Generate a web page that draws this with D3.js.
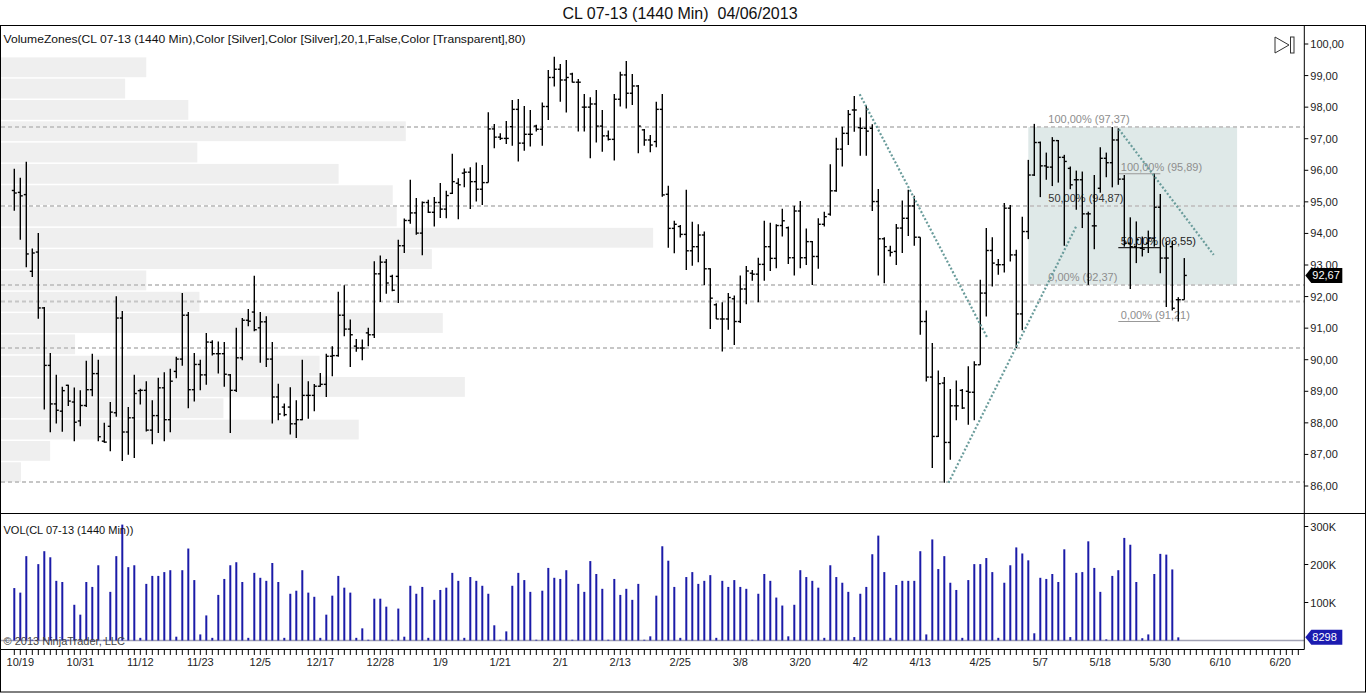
<!DOCTYPE html>
<meta charset="utf-8">
<style>
    body { margin: 0; background: #fff; }
    svg { display: block; font-family: "Liberation Sans", Arial, sans-serif; }
    .ohlc line { stroke: #000; stroke-width: 1.4px; }
    .vol line { stroke: #1b1ba8; stroke-width: 2px; }
    .axis text { font-size: 11px; fill: #222; }
    .fib text { font-size: 11px; }
    .title { white-space: pre; }
</style>
<svg width="1366" height="694"></svg>
<script src="https://d3js.org/d3.v7.min.js"></script>
<script>

    // daily bars, CL 07-13, one slot per session (Sunday sessions included)
    var openP = [
        95.36, 95.30, 95.23, 92.80, 93.41, 91.64, 89.82, 88.60, 88.37, 89.19,
        88.66, 88.06, 88.55, 89.05, 89.56, 87.42, 87.89, 88.32, 91.32, 87.71,
        88.16, 89.02, 89.03, 87.77, 88.23, 89.11, 88.10, 89.63, 90.02, 91.41,
        89.05, 89.85, 89.52, 90.55, 90.19, 90.19, 89.52, 89.03, 90.06, 91.25,
        91.51, 91.01, 91.20, 90.02, 88.82, 88.50, 88.50, 87.97, 88.10, 88.87,
        88.87, 89.16, 89.22, 90.11, 90.13, 91.41, 90.97, 90.43, 90.37, 90.85,
        90.79, 92.72, 93.09, 92.64, 92.64, 93.61, 94.41, 94.65, 94.01, 94.98,
        94.67, 94.98, 94.77, 95.27, 95.59, 95.91, 95.94, 95.64, 95.40, 95.61,
        97.31, 97.05, 97.01, 97.38, 97.93, 96.86, 97.14, 97.40, 97.30, 98.02,
        98.94, 99.20, 98.86, 99.05, 98.79, 98.00, 98.00, 98.10, 97.40, 97.09,
        96.98, 98.25, 99.02, 98.44, 98.67, 97.28, 96.96, 96.91, 97.93, 95.24,
        94.16, 94.22, 93.97, 93.45, 93.58, 93.95, 92.88, 91.74, 91.29, 91.29,
        91.93, 91.21, 92.24, 92.74, 92.71, 93.02, 93.58, 93.21, 94.25, 94.18,
        93.23, 94.71, 93.23, 93.74, 93.27, 94.29, 94.61, 95.35, 96.67, 97.17,
        97.91, 97.35, 97.33, 97.33, 95.01, 93.83, 93.46, 93.43, 94.17, 94.48,
        94.87, 93.88, 91.21, 89.45, 87.57, 89.26, 87.38, 88.54, 89.03, 89.00,
        88.97, 89.84, 92.11, 93.46, 93.01, 93.01, 94.80, 93.32, 91.45, 94.06,
        95.85, 96.88, 96.14, 96.10, 96.94, 96.41, 96.06, 95.70, 95.70, 94.62,
        94.24, 95.43, 96.38, 96.24, 96.96, 95.72, 93.69, 93.58, 93.53, 93.69,
        93.85, 94.83, 93.22, 93.58, 91.90, 91.90
    ];
    var highP = [
        96.05, 95.76, 96.27, 93.52, 94.01, 91.67, 90.21, 89.52, 89.14, 89.21,
        89.12, 89.03, 89.97, 90.19, 90.00, 88.00, 88.66, 92.01, 91.54, 88.50,
        89.52, 89.08, 89.32, 88.72, 89.43, 89.60, 89.71, 90.09, 92.11, 91.51,
        90.21, 90.00, 90.85, 90.62, 90.58, 90.56, 89.55, 91.01, 91.32, 91.61,
        92.66, 91.51, 91.38, 90.56, 89.24, 88.61, 89.13, 88.72, 90.00, 89.32,
        89.23, 89.58, 90.19, 90.43, 92.15, 92.36, 91.27, 90.66, 90.64, 91.01,
        93.12, 93.30, 93.19, 92.69, 93.80, 94.47, 95.70, 95.12, 95.01, 95.07,
        95.15, 95.60, 95.35, 96.52, 95.75, 96.06, 96.10, 96.25, 96.17, 97.84,
        97.47, 97.17, 97.56, 98.23, 98.26, 98.04, 97.91, 97.44, 98.15, 99.18,
        99.60, 99.37, 99.49, 99.09, 98.89, 98.42, 98.31, 98.54, 97.91, 97.26,
        98.42, 99.12, 99.46, 99.05, 98.70, 97.31, 97.12, 98.17, 98.42, 95.51,
        94.40, 94.27, 95.38, 94.37, 94.29, 94.06, 92.90, 91.79, 91.82, 92.11,
        92.03, 92.67, 92.97, 92.84, 93.23, 94.40, 94.34, 94.29, 94.78, 94.22,
        94.88, 95.03, 94.16, 93.76, 94.48, 94.69, 96.19, 97.03, 97.38, 97.91,
        98.35, 97.67, 98.05, 97.46, 95.41, 93.88, 93.61, 94.30, 95.04, 95.38,
        95.19, 93.88, 91.56, 90.53, 89.66, 89.45, 89.07, 89.34, 89.07, 89.79,
        89.95, 92.53, 94.17, 93.88, 93.19, 94.96, 94.90, 93.48, 94.53, 96.33,
        97.47, 96.91, 96.56, 97.05, 96.96, 96.49, 96.12, 95.99, 95.96, 94.69,
        95.85, 96.73, 96.56, 97.37, 97.33, 95.85, 94.51, 94.38, 93.90, 94.09,
        95.89, 95.25, 93.74, 93.77, 91.98, 93.22
    ];
    var lowP = [
        94.72, 93.80, 92.93, 92.62, 91.30, 88.42, 87.70, 87.98, 87.72, 88.53,
        87.42, 87.89, 88.50, 88.84, 87.42, 87.37, 87.10, 88.19, 86.79, 86.99,
        86.89, 88.58, 87.73, 87.32, 87.68, 87.42, 87.70, 89.41, 89.81, 88.46,
        88.68, 89.03, 89.21, 90.13, 89.56, 89.14, 87.68, 88.98, 89.98, 91.06,
        90.90, 89.90, 89.77, 87.98, 88.08, 88.21, 87.63, 87.52, 88.08, 88.13,
        88.37, 89.14, 88.82, 89.48, 90.09, 90.74, 89.77, 90.25, 89.98, 90.43,
        90.69, 91.83, 92.09, 92.17, 91.80, 93.38, 94.31, 93.96, 93.31, 94.65,
        94.22, 94.49, 94.48, 95.25, 94.45, 95.46, 94.77, 95.01, 94.90, 95.61,
        96.70, 96.96, 96.83, 96.78, 96.28, 96.62, 96.75, 97.23, 96.78, 97.59,
        98.65, 98.17, 97.83, 98.78, 97.23, 97.23, 96.38, 96.88, 96.59, 96.94,
        96.31, 98.02, 97.96, 98.07, 96.54, 96.78, 96.57, 96.73, 95.16, 93.55,
        93.37, 93.87, 92.84, 92.98, 93.09, 92.37, 90.97, 91.29, 90.26, 90.95,
        90.47, 91.16, 91.76, 92.50, 91.82, 92.50, 92.81, 92.90, 93.90, 93.03,
        92.67, 92.90, 93.00, 92.37, 92.88, 94.22, 94.56, 95.32, 96.12, 96.80,
        97.22, 96.46, 96.46, 94.71, 92.67, 92.42, 93.27, 93.00, 93.38, 93.92,
        93.61, 90.79, 89.31, 86.57, 87.55, 86.10, 86.83, 88.08, 88.44, 87.94,
        88.08, 89.84, 91.37, 92.32, 92.69, 92.76, 93.11, 90.37, 90.93, 93.82,
        95.82, 95.15, 95.70, 95.50, 95.61, 93.61, 95.40, 94.75, 94.17, 92.37,
        93.50, 95.29, 95.78, 95.46, 95.54, 93.58, 92.24, 93.06, 93.27, 93.38,
        93.58, 92.74, 91.67, 91.56, 91.21, 91.90
    ];
    var closeP = [
        95.28, 95.19, 93.35, 93.38, 91.64, 89.82, 88.60, 88.40, 89.02, 88.69,
        88.02, 88.55, 89.05, 89.56, 87.56, 87.39, 88.34, 91.32, 87.71, 88.16,
        88.93, 89.03, 87.77, 88.23, 89.11, 88.10, 89.32, 90.02, 91.41, 89.05,
        89.85, 89.52, 90.56, 90.19, 90.19, 89.54, 89.03, 90.06, 91.25, 91.22,
        90.95, 91.20, 90.02, 88.82, 88.28, 88.26, 87.97, 88.10, 88.87, 88.87,
        89.16, 89.22, 90.11, 90.13, 91.41, 90.97, 90.79, 90.37, 90.37, 90.79,
        92.72, 93.09, 92.43, 92.20, 93.61, 94.41, 94.65, 94.01, 94.98, 94.67,
        94.98, 94.77, 95.20, 95.64, 95.54, 95.94, 95.64, 95.40, 95.61, 97.31,
        97.05, 97.01, 97.01, 97.93, 96.86, 97.14, 97.14, 97.30, 98.02, 98.94,
        99.20, 98.86, 98.94, 98.79, 98.79, 98.00, 98.10, 97.40, 97.09, 96.98,
        98.25, 99.02, 98.44, 98.67, 97.40, 96.96, 96.80, 97.93, 95.22, 94.16,
        94.29, 93.97, 93.45, 93.58, 93.95, 92.88, 91.95, 91.29, 91.29, 91.97,
        91.21, 92.24, 92.81, 92.71, 93.02, 93.58, 93.21, 94.25, 94.40, 93.23,
        94.71, 93.23, 93.74, 93.27, 94.29, 94.53, 95.35, 96.67, 97.17, 97.77,
        97.91, 97.33, 97.24, 95.01, 93.83, 93.58, 93.40, 94.17, 94.48, 94.87,
        93.88, 91.21, 89.45, 87.57, 89.24, 87.38, 88.54, 88.54, 88.47, 88.97,
        89.84, 92.11, 93.46, 93.06, 93.01, 94.80, 93.32, 91.45, 94.06, 95.85,
        96.88, 96.14, 96.10, 96.94, 96.41, 96.28, 95.54, 95.70, 94.62, 94.62,
        94.24, 96.38, 96.24, 96.96, 95.72, 93.69, 93.58, 93.80, 93.50, 93.85,
        94.83, 93.22, 93.22, 91.63, 91.90, 92.67
    ];

    // volume in thousands of contracts (last, still-forming bar has none yet)
    var volK = [
        138, 126, 222, 2, 201, 235, 219, 157, 154, 2,
        94, 68, 154, 141, 198, 2, 128, 222, 305, 193,
        198, 7, 149, 170, 170, 180, 185, 10, 185, 242,
        159, 16, 66, 7, 120, 162, 198, 206, 154, 7,
        178, 165, 157, 204, 154, 7, 123, 131, 185, 126,
        115, 7, 68, 118, 170, 139, 126, 7, 32, 2,
        110, 110, 89, 2, 84, 10, 144, 123, 141, 7,
        107, 133, 139, 178, 157, 7, 167, 157, 144, 123,
        40, 2, 24, 144, 178, 159, 128, 2, 131, 191,
        165, 162, 185, 2, 149, 128, 209, 175, 136, 2,
        162, 120, 136, 107, 149, 2, 11, 118, 248, 210,
        141, 7, 167, 180, 149, 157, 172, 7, 157, 141,
        159, 141, 136, 2, 123, 175, 157, 113, 92, 11,
        94, 185, 167, 157, 139, 7, 198, 167, 152, 128,
        9, 123, 141, 227, 276, 180, 7, 146, 157, 157,
        157, 235, 16, 266, 188, 222, 152, 133, 7, 159,
        201, 201, 217, 180, 7, 152, 198, 245, 229, 211,
        19, 165, 162, 175, 154, 240, 9, 178, 180, 261,
        191, 128, 3, 170, 185, 270, 252, 154, 6, 16,
        175, 228, 226, 187, 8.298
    ];

    var dateLabels = ["10/19", "10/31", "11/12", "11/23", "12/5", "12/17", "12/28", "1/9", "1/21", "2/1", "2/13",
        "2/25", "3/8", "3/20", "4/2", "4/13", "4/25", "5/7", "5/18", "5/30", "6/10", "6/20"];
    var dateLabelBars = [1, 11, 21, 31, 41, 51, 61, 71, 81, 91, 101, 111, 121, 131, 141, 151, 161, 171, 181, 191, 201, 211];
    var priceTicks = [86, 87, 88, 89, 90, 91, 92, 93, 94, 95, 96, 97, 98, 99, 100];
    var volTicks = [100, 200, 300];

    // VolumeZones: 20 price bands, volume per band (thousands), top band first
    var zoneHigh = 99.60, zoneLow = 86.10;
    var zoneVolK = [757, 647, 976, 2109, 1023, 1759, 2041, 2062, 3398, 2245,
        757, 1034, 2302, 386, 1660, 2417, 1159, 1864, 256, 104];

    // drawn objects
    var hLevels = [97.37, 94.87, 92.37, 91.84, 90.37, 86.13];
    var trendFrom = [[140.9, 98.41], [155.7, 86.10], [184.1, 97.30]];
    var trendTo = [[162.1, 90.72], [177.1, 94.27], [199.9, 93.32]];
    var fibLevels = [1, 0.5, 0];
    var bigFibBars = [169, 203.8], bigFibPrices = [97.37, 92.37];
    var smallFibBars = [184, 191], smallFibPrices = [95.89, 91.21];

    var svg = d3.select("svg"),
        plotRight = 1304.3;

    var x = d3.scaleLinear().domain([0, 215]).range([14.3, plotRight]),
        y = d3.scaleLinear().domain([86, 100]).range([486, 44]),
        vy = d3.scaleLinear().domain([0, 300]).range([640.5, 526.5]);

    var num = d3.format(".2f");
    function comma(v) { return num(v).replace(".", ","); }

    // title and frame
    svg.append("text")
        .attr("class", "title")
        .attr("x", 680).attr("y", 19)
        .attr("text-anchor", "middle")
        .style("font-size", "16px").style("fill", "#111")
        .text("CL 07-13 (1440 Min)  04/06/2013");

    svg.append("rect")
        .attr("x", 0.5).attr("y", 25.5).attr("width", 1365).attr("height", 666.5)
        .attr("fill", "none").attr("stroke", "#000");

    // volume zones
    var step = (zoneHigh - zoneLow) / zoneVolK.length;
    var zx = d3.scaleLinear().domain([0, d3.max(zoneVolK)]).range([0, plotRight * 0.5]);
    svg.append("g").selectAll("rect")
        .data(zoneVolK)
        .enter().append("rect")
        .attr("x", 1)
        .attr("y", function (d, i) { return y(zoneHigh - i * step) + 0.75; })
        .attr("width", function (d) { return zx(d); })
        .attr("height", function (d, i) { return y(zoneHigh - (i + 1) * step) - y(zoneHigh - i * step) - 1.5; })
        .attr("fill", "#efefef");

    // big fibonacci box
    svg.append("rect")
        .attr("x", x(bigFibBars[0]))
        .attr("y", y(bigFibPrices[0]))
        .attr("width", x(bigFibBars[1]) - x(bigFibBars[0]))
        .attr("height", y(bigFibPrices[1]) - y(bigFibPrices[0]))
        .attr("fill", "#dfe9e8");

    // horizontal dashed lines
    svg.append("g").selectAll("line")
        .data(hLevels)
        .enter().append("line")
        .attr("x1", 1).attr("x2", plotRight)
        .attr("y1", function (d) { return y(d); })
        .attr("y2", function (d) { return y(d); })
        .attr("stroke", "#c6c6c6").attr("stroke-width", 2)
        .attr("stroke-dasharray", "4,3");

    // small fibonacci lines
    var fib = svg.append("g").attr("class", "fib");
    fibLevels.forEach(function (lv) {
        var p = smallFibPrices[1] + lv * (smallFibPrices[0] - smallFibPrices[1]);
        fib.append("line")
            .attr("x1", x(smallFibBars[0])).attr("x2", x(smallFibBars[1]))
            .attr("y1", y(p)).attr("y2", y(p))
            .attr("stroke", lv === 0.5 ? "#222" : "#999").attr("stroke-width", 1.2);
    });

    // OHLC bars
    var bar = svg.append("g").attr("class", "ohlc").selectAll("g")
        .data(closeP)
        .enter().append("g")
        .attr("transform", function (d, i) { return "translate(" + x(i) + ",0)"; });
    bar.append("line")
        .attr("x1", 0).attr("x2", 0)
        .attr("y1", function (d, i) { return y(highP[i]); })
        .attr("y2", function (d, i) { return y(lowP[i]); });
    bar.append("line")
        .attr("x1", -2.5).attr("x2", 0)
        .attr("y1", function (d, i) { return y(openP[i]); })
        .attr("y2", function (d, i) { return y(openP[i]); });
    bar.append("line")
        .attr("x1", 0).attr("x2", 2.5)
        .attr("y1", function (d) { return y(d); })
        .attr("y2", function (d) { return y(d); });

    // trend lines
    svg.append("g").selectAll("line")
        .data(trendFrom)
        .enter().append("line")
        .attr("x1", function (d) { return x(d[0]); })
        .attr("y1", function (d) { return y(d[1]); })
        .attr("x2", function (d, i) { return x(trendTo[i][0]); })
        .attr("y2", function (d, i) { return y(trendTo[i][1]); })
        .attr("stroke", "#6a9c9b").attr("stroke-width", 2.2)
        .attr("stroke-dasharray", "2,2");

    // fibonacci labels
    fibLevels.forEach(function (lv) {
        var p = bigFibPrices[1] + lv * (bigFibPrices[0] - bigFibPrices[1]);
        fib.append("text")
            .attr("x", x(bigFibBars[0]) + 20).attr("y", y(p) - 4)
            .style("fill", lv === 0.5 ? "#333" : "#8e8e8e")
            .text(comma(lv * 100) + "% (" + comma(p) + ")");
        var q = smallFibPrices[1] + lv * (smallFibPrices[0] - smallFibPrices[1]);
        fib.append("text")
            .attr("x", x(smallFibBars[0]) + 2.5).attr("y", y(q) - 3)
            .style("fill", lv === 0.5 ? "#222" : "#8e8e8e")
            .text(comma(lv * 100) + "% (" + comma(q) + ")");
    });

    // volume pane
    svg.append("line")
        .attr("x1", 1).attr("x2", plotRight)
        .attr("y1", vy(0)).attr("y2", vy(0))
        .attr("stroke", "#a2a2b4").attr("stroke-width", 1.5);

    svg.append("g").attr("class", "vol").selectAll("line")
        .data(volK)
        .enter().append("line")
        .attr("x1", function (d, i) { return x(i); })
        .attr("x2", function (d, i) { return x(i); })
        .attr("y1", vy(0))
        .attr("y2", function (d) { return vy(d); });

    // pane borders and axes
    svg.append("line").attr("x1", 0).attr("x2", 1366).attr("y1", 513.5).attr("y2", 513.5).attr("stroke", "#000");
    svg.append("line").attr("x1", 0).attr("x2", plotRight).attr("y1", 649.5).attr("y2", 649.5).attr("stroke", "#000");
    svg.append("line").attr("x1", plotRight).attr("x2", plotRight).attr("y1", 25).attr("y2", 649.5).attr("stroke", "#000");

    var axis = svg.append("g").attr("class", "axis");

    axis.selectAll(".pt")
        .data(priceTicks)
        .enter().append("line")
        .attr("x1", plotRight).attr("x2", plotRight + 4)
        .attr("y1", function (d) { return y(d); })
        .attr("y2", function (d) { return y(d); })
        .attr("stroke", "#000");
    axis.selectAll(".pl")
        .data(priceTicks)
        .enter().append("text")
        .attr("x", plotRight + 6)
        .attr("y", function (d) { return y(d) + 4; })
        .text(comma);

    axis.selectAll(".vt")
        .data(volTicks)
        .enter().append("line")
        .attr("x1", plotRight).attr("x2", plotRight + 4)
        .attr("y1", function (d) { return vy(d); })
        .attr("y2", function (d) { return vy(d); })
        .attr("stroke", "#000");
    axis.selectAll(".vl")
        .data(volTicks)
        .enter().append("text")
        .attr("x", plotRight + 6)
        .attr("y", function (d) { return vy(d) + 4; })
        .text(function (d) { return d + "K"; });

    axis.selectAll(".xt")
        .data(d3.range(0, 215))
        .enter().append("line")
        .attr("x1", function (d) { return x(d); })
        .attr("x2", function (d) { return x(d); })
        .attr("y1", 649.5).attr("y2", 655)
        .attr("stroke", "#000");
    axis.selectAll(".xl")
        .data(dateLabels)
        .enter().append("text")
        .attr("x", function (d, i) { return x(dateLabelBars[i]); })
        .attr("y", 666)
        .attr("text-anchor", "middle")
        .text(function (d) { return d; });

    // last value markers
    function marker(yv, fill, label) {
        var g = svg.append("g");
        g.append("path")
            .attr("d", "M" + (plotRight + 1) + "," + yv + "L" + (plotRight + 7) + "," + (yv - 7.5)
                + "H" + (plotRight + 38) + "V" + (yv + 7.5) + "H" + (plotRight + 7) + "Z")
            .attr("fill", fill);
        g.append("text")
            .attr("x", plotRight + 8).attr("y", yv + 4)
            .style("font-size", "11px").style("fill", "#fff")
            .text(label);
    }
    marker(y(closeP[closeP.length - 1]), "#000", comma(closeP[closeP.length - 1]));
    marker(vy(volK[volK.length - 1]), "#1b1bb0", Math.round(volK[volK.length - 1] * 1000));

    // indicator captions
    svg.append("text")
        .attr("x", 3.5).attr("y", 43)
        .attr("textLength", 522).attr("lengthAdjust", "spacingAndGlyphs")
        .style("font-size", "11px").style("fill", "#111")
        .text("VolumeZones(CL 07-13 (1440 Min),Color [Silver],Color [Silver],20,1,False,Color [Transparent],80)");
    svg.append("text")
        .attr("x", 3.5).attr("y", 534)
        .style("font-size", "11px").style("fill", "#111")
        .text("VOL(CL 07-13 (1440 Min))");
    svg.append("text")
        .attr("x", 3.5).attr("y", 645)
        .style("font-size", "11px").style("fill", "#444")
        .text("\u00a9 2013 NinjaTrader, LLC");

    // scroll-to-end button
    svg.append("path")
        .attr("d", "M1275,37L1289,45L1275,53Z")
        .attr("fill", "#fff").attr("stroke", "#333");
    svg.append("rect")
        .attr("x", 1290.5).attr("y", 37).attr("width", 3.5).attr("height", 16)
        .attr("fill", "#fff").attr("stroke", "#333");

</script>
